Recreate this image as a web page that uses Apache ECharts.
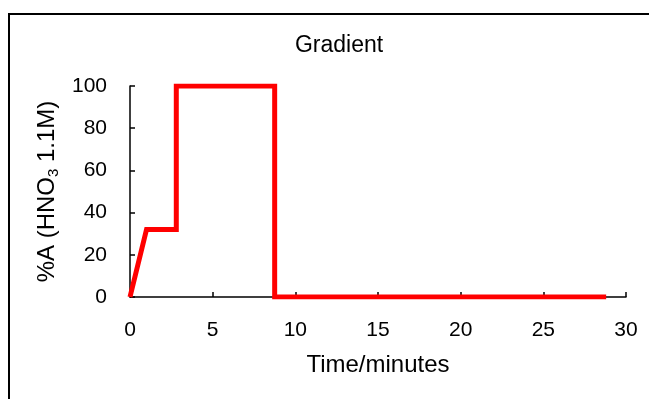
<!DOCTYPE html>
<html><head><meta charset="utf-8">
<script src="https://cdn.jsdelivr.net/npm/echarts@6/dist/echarts.min.js"></script>
<style>html,body{margin:0;padding:0;background:#fff;}#c{width:649px;height:399px;}</style>
</head><body><div id="c"></div>
<script>
const timeMin = [0, 1.0, 2.8, 2.8, 8.75, 8.75, 28.8];
const percentA = [0, 32, 32, 100, 100, 0, 0];
const xTicks = [0, 5, 10, 15, 20, 25, 30];
const yTicks = [0, 20, 40, 60, 80, 100];

const chart = echarts.init(document.getElementById('c'), null, {renderer: 'canvas'});
const font = 'Liberation Sans, Arial, sans-serif';
chart.setOption({
  animation: false,
  title: {text: 'Gradient', left: 334, top: 29, textAlign: 'center',
    textStyle: {fontFamily: font, fontSize: 23, fontWeight: 'normal', color: '#000'}},
  grid: {left: 130, right: 23, top: 86, bottom: 102, containLabel: false},
  graphic: [{type: 'rect', shape: {x: 9, y: 14, width: 700, height: 500},
    style: {fill: 'none', stroke: '#000', lineWidth: 2}, silent: true}],
  xAxis: {type: 'value', min: 0, max: 30, interval: 5,
    name: 'Time/minutes', nameLocation: 'middle', nameGap: 56,
    nameTextStyle: {fontFamily: font, fontSize: 24, color: '#000'},
    axisLine: {lineStyle: {color: '#000', width: 1.5}},
    axisTick: {inside: true, length: 5, lineStyle: {color: '#000', width: 1.5}},
    axisLabel: {fontFamily: font, fontSize: 21, color: '#000', margin: 23},
    splitLine: {show: false}},
  yAxis: {type: 'value', min: 0, max: 100, interval: 20,
    name: '{n|%A (HNO}{s|3}{n| 1.1M)}', nameLocation: 'middle', nameGap: 59, nameRotate: 90,
    nameTextStyle: {rich: {
      n: {fontFamily: font, fontSize: 24, color: '#000'},
      s: {fontFamily: font, fontSize: 15, color: '#000', padding: [13, 0, 0, 0]}}},
    axisLine: {show: true, lineStyle: {color: '#000', width: 1.5}},
    axisTick: {show: true, inside: true, length: 5, lineStyle: {color: '#000', width: 1.5}},
    axisLabel: {fontFamily: font, fontSize: 21, color: '#000', margin: 23},
    splitLine: {show: false}},
  series: [{type: 'line', data: timeMin.map((t, i) => [t, percentA[i]]),
    showSymbol: false, symbol: 'none',
    lineStyle: {color: '#ff0000', width: 5, join: 'miter'}}]
});
</script></body></html>
